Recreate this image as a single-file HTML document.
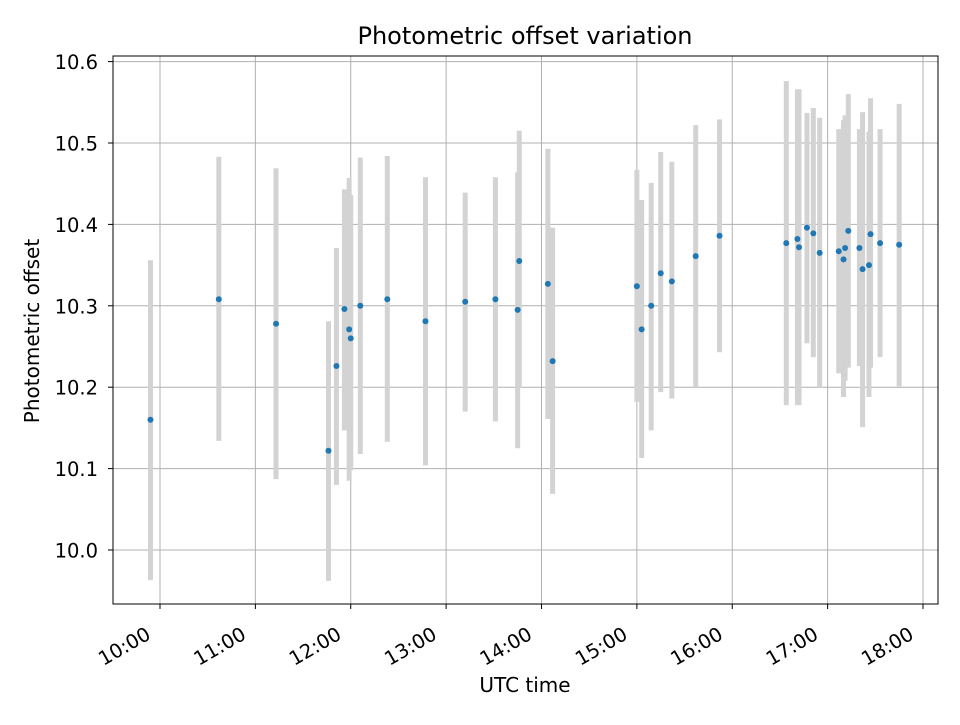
<!DOCTYPE html>
<html><head><meta charset="utf-8"><style>
body{margin:0;background:#fff}
svg text{font-family:"DejaVu Sans","Liberation Sans",sans-serif;fill:#000}
</style></head><body>
<svg id="chart" width="960" height="720" viewBox="0 0 960 720">
<rect width="960" height="720" fill="#fff"/>
<g id="grid"></g>
<g id="bars"></g>
<g id="points"></g>
<rect x="113" y="56" width="825" height="548" fill="none" stroke="#000" stroke-width="1"/>
<g id="ticks"></g>
<text x="525" y="44" style="font-size:24px" text-anchor="middle">Photometric offset variation</text>
<text x="525" y="692" style="font-size:20px" text-anchor="middle">UTC time</text>
<text x="39" y="331" style="font-size:20px" text-anchor="middle" transform="rotate(-90 39 331)">Photometric offset</text>
</svg>
<script>
const times=["09:54","10:37","11:13","11:46","11:51","11:56","11:59","12:00","12:06","12:23","12:47","13:12","13:31","13:45","13:46","14:04","14:07","15:00","15:03","15:09","15:15","15:22","15:37","15:52","16:34","16:41","16:42","16:47","16:51","16:55","17:07","17:10","17:11","17:13","17:20","17:22","17:26","17:27","17:33","17:45"];
const values=[10.160,10.308,10.278,10.122,10.226,10.296,10.271,10.260,10.300,10.308,10.281,10.305,10.308,10.295,10.355,10.327,10.232,10.324,10.271,10.300,10.340,10.330,10.361,10.386,10.377,10.382,10.372,10.396,10.389,10.365,10.367,10.357,10.371,10.392,10.371,10.345,10.350,10.388,10.377,10.375];
const upper=[10.356,10.483,10.469,10.281,10.371,10.443,10.457,10.436,10.482,10.484,10.458,10.439,10.458,10.464,10.515,10.493,10.396,10.467,10.430,10.451,10.489,10.477,10.522,10.529,10.576,10.566,10.566,10.537,10.543,10.531,10.517,10.528,10.534,10.560,10.517,10.538,10.514,10.555,10.517,10.548];
const lower=[9.963,10.134,10.087,9.962,10.080,10.147,10.085,10.098,10.118,10.133,10.104,10.170,10.158,10.125,10.199,10.161,10.069,10.182,10.113,10.147,10.194,10.186,10.200,10.243,10.178,10.178,10.178,10.254,10.237,10.200,10.217,10.188,10.208,10.224,10.226,10.151,10.188,10.224,10.237,10.201];
const yTicks=[10.0,10.1,10.2,10.3,10.4,10.5,10.6];
const xTicks=["10:00","11:00","12:00","13:00","14:00","15:00","16:00","17:00","18:00"];
const NS="http://www.w3.org/2000/svg";
function mins(t){const p=t.split(":");return (+p[0])*60+(+p[1]);}
function xs(t){return 160+(mins(t)-600)/60*95.375;}
function ys(v){return 550-(v-10)*814;}
function mk(tag,attrs,parent){const e=document.createElementNS(NS,tag);for(const k in attrs)e.setAttribute(k,attrs[k]);document.getElementById(parent).appendChild(e);return e;}
yTicks.forEach(v=>{
  const y=ys(v);
  const g=mk("line",{x1:113,x2:938,y1:y,y2:y,stroke:"#b0b0b0","stroke-width":1},"grid");
  
  
  const t=mk("line",{x1:108,x2:113,y1:y,y2:y,stroke:"#000"},"ticks");
  
  
  const l=mk("text",{x:98,y:y+7.5,style:"font-size:19.5px","text-anchor":"end"},"ticks");
  l.textContent=v.toFixed(1);
  
  
});
xTicks.forEach(s=>{
  const x=xs(s);
  const g=mk("line",{x1:x,x2:x,y1:56,y2:604,stroke:"#b0b0b0","stroke-width":1},"grid");
  
  
  const t=mk("line",{x1:x,x2:x,y1:604,y2:609,stroke:"#000"},"ticks");
  
  
  const ax=x-8, ay=638;
  const l=mk("text",{x:ax,y:ay,style:"font-size:19.5px","text-anchor":"end",transform:"rotate(-30 "+ax+" "+ay+")"},"ticks");
  l.textContent=s;
  
  
});
times.forEach((t,i)=>{
  const x=xs(t);
  const b=mk("line",{x1:x,x2:x,y1:ys(upper[i]),y2:ys(lower[i]),stroke:"#d3d3d3","stroke-width":5},"bars");
  
  
});
times.forEach((t,i)=>{
  const c=mk("circle",{cx:xs(t),cy:ys(values[i]),r:3,fill:"#1f77b4"},"points");
  
  
});
</script>
</body></html>
